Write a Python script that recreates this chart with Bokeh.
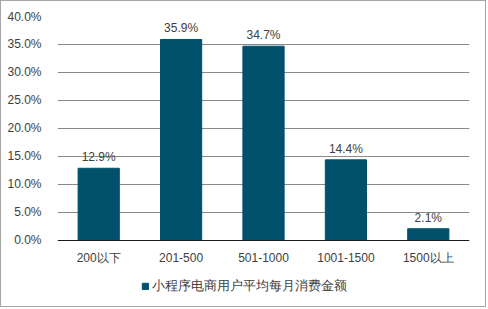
from bokeh.plotting import figure
from bokeh.models import ColumnDataSource, FixedTicker, PrintfTickFormatter, Legend, LegendItem
from bokeh.core.properties import value
from bokeh.embed import file_html
from bokeh.resources import INLINE

categories = ["200以下", "201-500", "501-1000", "1001-1500", "1500以上"]
values = [12.9, 35.9, 34.7, 14.4, 2.1]
labels = ["12.9%", "35.9%", "34.7%", "14.4%", "2.1%"]
series_name = "小程序电商用户平均每月消费金额"
y_ticks = [0, 5, 10, 15, 20, 25, 30, 35, 40]

FONT = "Liberation Sans"
BAR = "#01506c"
TXT = "#404040"

src = ColumnDataSource(dict(cat=categories, val=values, lab=labels))

# frame spans down to the bottom so the legend below the axis is not clipped;
# the x axis is pinned at y = 0
p = figure(x_range=categories, y_range=(-11.786, 40), width=486, height=307,
           output_backend="svg", toolbar_location=None,
           min_border_left=56, min_border_right=18, min_border_top=15, min_border_bottom=2)
p.styles = {"border": "1px solid #a6a6a6"}
p.outline_line_color = None
p.background_fill_color = "white"

r = p.vbar(x="cat", top="val", width=0.5, source=src, color=BAR)
p.text(x="cat", y="val", text="lab", source=src, text_align="center", text_baseline="bottom",
       y_offset=-4, text_font=value(FONT), text_font_size="12px", text_color=TXT)

p.yaxis.ticker = FixedTicker(ticks=y_ticks)
p.yaxis.formatter = PrintfTickFormatter(format="%.1f%%")
p.yaxis.axis_line_color = None
p.yaxis.major_tick_line_color = None
p.yaxis.minor_tick_line_color = None
p.yaxis.major_label_standoff = 10
p.yaxis.major_label_text_font = FONT
p.yaxis.major_label_text_font_size = "12px"
p.yaxis.major_label_text_color = TXT

p.xaxis.fixed_location = 0
p.xaxis.axis_line_color = "#1a1a1a"
p.xaxis.major_tick_line_color = None
p.xaxis.minor_tick_line_color = None
p.xaxis.major_label_standoff = 5
p.xaxis.major_label_text_font = FONT
p.xaxis.major_label_text_font_size = "12px"
p.xaxis.major_label_text_color = TXT

p.xgrid.grid_line_color = None
p.ygrid.grid_line_color = "#8a8a8a"
p.ygrid.ticker = FixedTicker(ticks=y_ticks[1:])

legend = Legend(items=[LegendItem(label=series_name, renderers=[r])],
                location=(84, 11), orientation="horizontal",
                glyph_width=8, glyph_height=8, label_standoff=3,
                label_text_font=FONT, label_text_font_size="13px", label_text_color=TXT,
                border_line_color=None, background_fill_alpha=0, padding=0, margin=0)
p.add_layout(legend)

open("out.html", "w").write(file_html(p, INLINE))
